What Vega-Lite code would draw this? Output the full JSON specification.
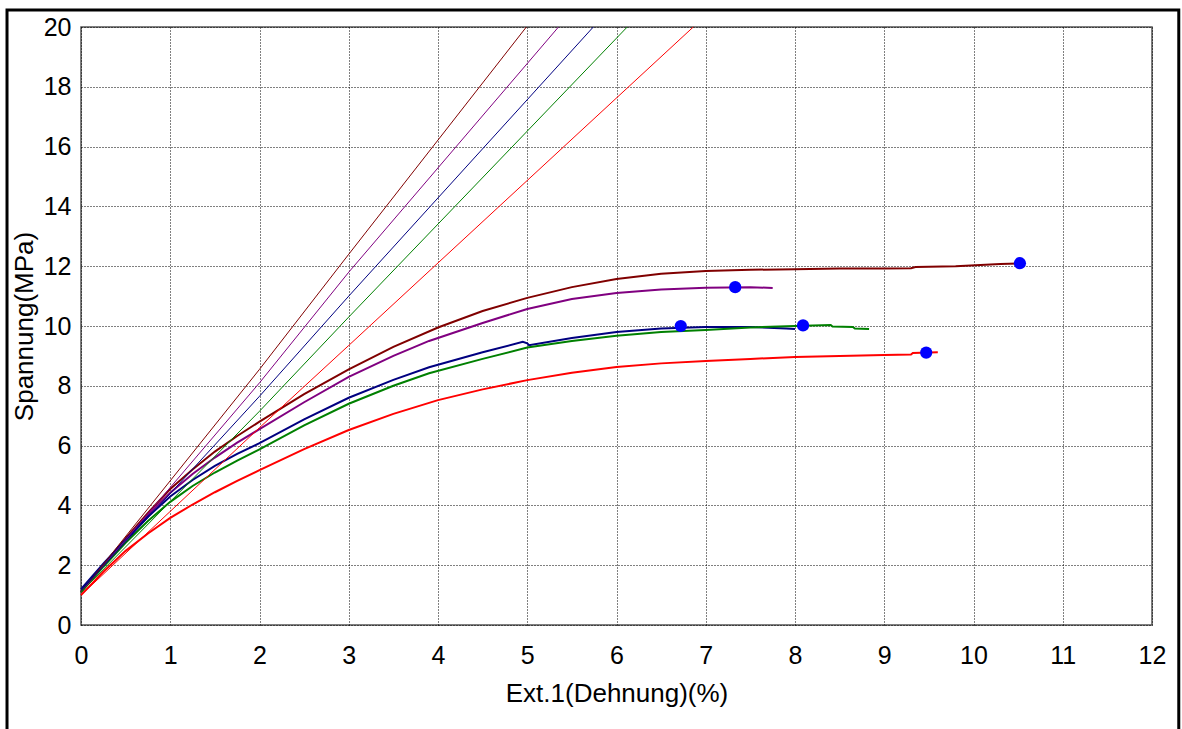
{
  "$schema": "https://vega.github.io/schema/vega-lite/v6.json",
  "width": 1071,
  "height": 598,
  "autosize": {"type": "none"},
  "padding": {"left": 81, "top": 27, "right": 30, "bottom": 104},
  "background": "white",
  "config": {
    "view": {"stroke": "#555555", "strokeWidth": 1.5},
    "axis": {
      "labelFont": "Liberation Sans",
      "titleFont": "Liberation Sans",
      "labelFontSize": 25,
      "titleFontSize": 26,
      "titleFontWeight": "normal",
      "labelColor": "black",
      "titleColor": "black",
      "grid": true,
      "gridColor": "black",
      "gridDash": [1, 2],
      "gridWidth": 1,
      "gridOpacity": 1,
      "ticks": false,
      "tickSize": 0,
      "domain": false,
      "labelFlush": false,
      "labelOverlap": false
    }
  },
  "datasets": {
    "curves": [
      {"series": "brown", "kind": "curve", "x": 0, "y": 1.1},
      {"series": "brown", "kind": "curve", "x": 0.25, "y": 2.0},
      {"series": "brown", "kind": "curve", "x": 0.5, "y": 2.9},
      {"series": "brown", "kind": "curve", "x": 0.75, "y": 3.75},
      {"series": "brown", "kind": "curve", "x": 1, "y": 4.55},
      {"series": "brown", "kind": "curve", "x": 1.25, "y": 5.2},
      {"series": "brown", "kind": "curve", "x": 1.5, "y": 5.8},
      {"series": "brown", "kind": "curve", "x": 1.75, "y": 6.32},
      {"series": "brown", "kind": "curve", "x": 2, "y": 6.8},
      {"series": "brown", "kind": "curve", "x": 2.5, "y": 7.72},
      {"series": "brown", "kind": "curve", "x": 3, "y": 8.55},
      {"series": "brown", "kind": "curve", "x": 3.5, "y": 9.3},
      {"series": "brown", "kind": "curve", "x": 4, "y": 9.95},
      {"series": "brown", "kind": "curve", "x": 4.5, "y": 10.5},
      {"series": "brown", "kind": "curve", "x": 5, "y": 10.94},
      {"series": "brown", "kind": "curve", "x": 5.5, "y": 11.3},
      {"series": "brown", "kind": "curve", "x": 6, "y": 11.57},
      {"series": "brown", "kind": "curve", "x": 6.5, "y": 11.75},
      {"series": "brown", "kind": "curve", "x": 7, "y": 11.84},
      {"series": "brown", "kind": "curve", "x": 7.5, "y": 11.88},
      {"series": "brown", "kind": "curve", "x": 8, "y": 11.9},
      {"series": "brown", "kind": "curve", "x": 8.5, "y": 11.92},
      {"series": "brown", "kind": "curve", "x": 9, "y": 11.92},
      {"series": "brown", "kind": "curve", "x": 9.3, "y": 11.93},
      {"series": "brown", "kind": "curve", "x": 9.35, "y": 11.97},
      {"series": "brown", "kind": "curve", "x": 9.8, "y": 12.0},
      {"series": "brown", "kind": "curve", "x": 10.3, "y": 12.07},
      {"series": "brown", "kind": "curve", "x": 10.55, "y": 12.1},

      {"series": "purple", "kind": "curve", "x": 0, "y": 1.1},
      {"series": "purple", "kind": "curve", "x": 0.25, "y": 2.0},
      {"series": "purple", "kind": "curve", "x": 0.5, "y": 2.85},
      {"series": "purple", "kind": "curve", "x": 0.75, "y": 3.68},
      {"series": "purple", "kind": "curve", "x": 1, "y": 4.42},
      {"series": "purple", "kind": "curve", "x": 1.25, "y": 5.05},
      {"series": "purple", "kind": "curve", "x": 1.5, "y": 5.6},
      {"series": "purple", "kind": "curve", "x": 1.75, "y": 6.1},
      {"series": "purple", "kind": "curve", "x": 2, "y": 6.55},
      {"series": "purple", "kind": "curve", "x": 2.5, "y": 7.45},
      {"series": "purple", "kind": "curve", "x": 3, "y": 8.3},
      {"series": "purple", "kind": "curve", "x": 3.5, "y": 9.0},
      {"series": "purple", "kind": "curve", "x": 3.9, "y": 9.5},
      {"series": "purple", "kind": "curve", "x": 4.5, "y": 10.1},
      {"series": "purple", "kind": "curve", "x": 5, "y": 10.57},
      {"series": "purple", "kind": "curve", "x": 5.5, "y": 10.9},
      {"series": "purple", "kind": "curve", "x": 6, "y": 11.1},
      {"series": "purple", "kind": "curve", "x": 6.5, "y": 11.22},
      {"series": "purple", "kind": "curve", "x": 7, "y": 11.28},
      {"series": "purple", "kind": "curve", "x": 7.5, "y": 11.3},
      {"series": "purple", "kind": "curve", "x": 7.75, "y": 11.27},

      {"series": "blue", "kind": "curve", "x": 0, "y": 1.2},
      {"series": "blue", "kind": "curve", "x": 0.25, "y": 2.05},
      {"series": "blue", "kind": "curve", "x": 0.5, "y": 2.85},
      {"series": "blue", "kind": "curve", "x": 0.75, "y": 3.62},
      {"series": "blue", "kind": "curve", "x": 1, "y": 4.3},
      {"series": "blue", "kind": "curve", "x": 1.25, "y": 4.85},
      {"series": "blue", "kind": "curve", "x": 1.5, "y": 5.32},
      {"series": "blue", "kind": "curve", "x": 1.75, "y": 5.72},
      {"series": "blue", "kind": "curve", "x": 2, "y": 6.08},
      {"series": "blue", "kind": "curve", "x": 2.5, "y": 6.88},
      {"series": "blue", "kind": "curve", "x": 3, "y": 7.6},
      {"series": "blue", "kind": "curve", "x": 3.5, "y": 8.2},
      {"series": "blue", "kind": "curve", "x": 3.9, "y": 8.62},
      {"series": "blue", "kind": "curve", "x": 4.5, "y": 9.12},
      {"series": "blue", "kind": "curve", "x": 4.95, "y": 9.47},
      {"series": "blue", "kind": "curve", "x": 5.0, "y": 9.42},
      {"series": "blue", "kind": "curve", "x": 5.02, "y": 9.36},
      {"series": "blue", "kind": "curve", "x": 5.5, "y": 9.6},
      {"series": "blue", "kind": "curve", "x": 6, "y": 9.8},
      {"series": "blue", "kind": "curve", "x": 6.5, "y": 9.92},
      {"series": "blue", "kind": "curve", "x": 7, "y": 9.97},
      {"series": "blue", "kind": "curve", "x": 7.5, "y": 9.97},
      {"series": "blue", "kind": "curve", "x": 7.9, "y": 9.92},
      {"series": "blue", "kind": "curve", "x": 8.0, "y": 9.9},

      {"series": "green", "kind": "curve", "x": 0, "y": 1.1},
      {"series": "green", "kind": "curve", "x": 0.25, "y": 1.95},
      {"series": "green", "kind": "curve", "x": 0.5, "y": 2.75},
      {"series": "green", "kind": "curve", "x": 0.75, "y": 3.48},
      {"series": "green", "kind": "curve", "x": 1, "y": 4.12},
      {"series": "green", "kind": "curve", "x": 1.25, "y": 4.65},
      {"series": "green", "kind": "curve", "x": 1.5, "y": 5.1},
      {"series": "green", "kind": "curve", "x": 1.75, "y": 5.5},
      {"series": "green", "kind": "curve", "x": 2, "y": 5.87},
      {"series": "green", "kind": "curve", "x": 2.5, "y": 6.68},
      {"series": "green", "kind": "curve", "x": 3, "y": 7.4},
      {"series": "green", "kind": "curve", "x": 3.5, "y": 8.0},
      {"series": "green", "kind": "curve", "x": 3.9, "y": 8.42},
      {"series": "green", "kind": "curve", "x": 4.5, "y": 8.9},
      {"series": "green", "kind": "curve", "x": 5, "y": 9.28},
      {"series": "green", "kind": "curve", "x": 5.5, "y": 9.5},
      {"series": "green", "kind": "curve", "x": 6, "y": 9.67},
      {"series": "green", "kind": "curve", "x": 6.5, "y": 9.8},
      {"series": "green", "kind": "curve", "x": 7, "y": 9.87},
      {"series": "green", "kind": "curve", "x": 7.5, "y": 9.95},
      {"series": "green", "kind": "curve", "x": 8, "y": 10.0},
      {"series": "green", "kind": "curve", "x": 8.4, "y": 10.03},
      {"series": "green", "kind": "curve", "x": 8.42, "y": 9.98},
      {"series": "green", "kind": "curve", "x": 8.65, "y": 9.97},
      {"series": "green", "kind": "curve", "x": 8.67, "y": 9.92},
      {"series": "green", "kind": "curve", "x": 8.83, "y": 9.9},

      {"series": "red", "kind": "curve", "x": 0, "y": 1.0},
      {"series": "red", "kind": "curve", "x": 0.25, "y": 1.78},
      {"series": "red", "kind": "curve", "x": 0.5, "y": 2.48},
      {"series": "red", "kind": "curve", "x": 0.75, "y": 3.06},
      {"series": "red", "kind": "curve", "x": 1, "y": 3.58},
      {"series": "red", "kind": "curve", "x": 1.25, "y": 4.03},
      {"series": "red", "kind": "curve", "x": 1.5, "y": 4.44},
      {"series": "red", "kind": "curve", "x": 1.75, "y": 4.82},
      {"series": "red", "kind": "curve", "x": 2, "y": 5.18},
      {"series": "red", "kind": "curve", "x": 2.5, "y": 5.88},
      {"series": "red", "kind": "curve", "x": 3, "y": 6.52},
      {"series": "red", "kind": "curve", "x": 3.5, "y": 7.06},
      {"series": "red", "kind": "curve", "x": 4, "y": 7.52},
      {"series": "red", "kind": "curve", "x": 4.5, "y": 7.88},
      {"series": "red", "kind": "curve", "x": 5, "y": 8.19},
      {"series": "red", "kind": "curve", "x": 5.5, "y": 8.44},
      {"series": "red", "kind": "curve", "x": 6, "y": 8.63},
      {"series": "red", "kind": "curve", "x": 6.5, "y": 8.75},
      {"series": "red", "kind": "curve", "x": 7, "y": 8.83},
      {"series": "red", "kind": "curve", "x": 7.5, "y": 8.9},
      {"series": "red", "kind": "curve", "x": 8, "y": 8.96},
      {"series": "red", "kind": "curve", "x": 8.5, "y": 9.0},
      {"series": "red", "kind": "curve", "x": 9, "y": 9.03},
      {"series": "red", "kind": "curve", "x": 9.3, "y": 9.05},
      {"series": "red", "kind": "curve", "x": 9.32, "y": 9.1},
      {"series": "red", "kind": "curve", "x": 9.6, "y": 9.12},

      {"series": "brown", "kind": "modulus", "x": 0, "y": 1.1},
      {"series": "brown", "kind": "modulus", "x": 2, "y": 8.55},
      {"series": "brown", "kind": "modulus", "x": 3, "y": 12.4},
      {"series": "brown", "kind": "modulus", "x": 4.99, "y": 20},
      {"series": "purple", "kind": "modulus", "x": 0, "y": 1.1},
      {"series": "purple", "kind": "modulus", "x": 2, "y": 8.1},
      {"series": "purple", "kind": "modulus", "x": 3, "y": 11.8},
      {"series": "purple", "kind": "modulus", "x": 5.35, "y": 20},
      {"series": "blue", "kind": "modulus", "x": 0, "y": 1.15},
      {"series": "blue", "kind": "modulus", "x": 2, "y": 7.65},
      {"series": "blue", "kind": "modulus", "x": 3, "y": 11.0},
      {"series": "blue", "kind": "modulus", "x": 5.74, "y": 20},
      {"series": "green", "kind": "modulus", "x": 0, "y": 1.1},
      {"series": "green", "kind": "modulus", "x": 2, "y": 7.15},
      {"series": "green", "kind": "modulus", "x": 3, "y": 10.3},
      {"series": "green", "kind": "modulus", "x": 6.12, "y": 20},
      {"series": "red", "kind": "modulus", "x": 0, "y": 1.0},
      {"series": "red", "kind": "modulus", "x": 2, "y": 6.6},
      {"series": "red", "kind": "modulus", "x": 3, "y": 9.35},
      {"series": "red", "kind": "modulus", "x": 6.86, "y": 20}
    ],
    "breaks": [
      {"series": "brown", "x": 10.52, "y": 12.1},
      {"series": "purple", "x": 7.33, "y": 11.3},
      {"series": "blue", "x": 6.72, "y": 10.0},
      {"series": "green", "x": 8.09, "y": 10.02},
      {"series": "red", "x": 9.47, "y": 9.11}
    ]
  },
  "layer": [
    {
      "data": {"values": [{"frame": "outer"}]},
      "mark": {"type": "rect", "fill": null, "filled": false, "stroke": "black", "strokeWidth": 3},
      "encoding": {
        "x": {"datum": -0.829, "type": "quantitative", "scale": {"domain": [0, 12], "nice": false, "zero": false}},
        "x2": {"datum": 12.3},
        "y": {"datum": 20.57, "type": "quantitative", "scale": {"domain": [0, 20], "nice": false, "zero": false}},
        "y2": {"datum": -4}
      }
    },
    {
      "data": {"name": "curves"},
      "mark": {"type": "line", "interpolate": "linear"},
      "encoding": {
        "x": {
          "field": "x", "type": "quantitative",
          "scale": {"domain": [0, 12], "nice": false, "zero": false},
          "axis": {"title": "Ext.1(Dehnung)(%)", "values": [0,1,2,3,4,5,6,7,8,9,10,11,12], "format": "d", "labelPadding": 18, "titlePadding": 12}
        },
        "y": {
          "field": "y", "type": "quantitative",
          "scale": {"domain": [0, 20], "nice": false, "zero": false},
          "axis": {"title": "Spannung(MPa)", "values": [0,2,4,6,8,10,12,14,16,18,20], "format": "d", "labelPadding": 10, "titlePadding": 6}
        },
        "color": {
          "field": "series", "type": "nominal",
          "scale": {"domain": ["brown", "purple", "blue", "green", "red"], "range": ["#800000", "#800080", "#000080", "#008000", "#ff0000"]},
          "legend": null
        },
        "strokeWidth": {
          "field": "kind", "type": "nominal",
          "scale": {"domain": ["curve", "modulus"], "range": [2, 1]},
          "legend": null
        }
      }
    },
    {
      "data": {"name": "breaks"},
      "mark": {"type": "circle", "color": "#0000ff", "opacity": 1, "size": 150},
      "encoding": {
        "x": {"field": "x", "type": "quantitative"},
        "y": {"field": "y", "type": "quantitative"}
      }
    }
  ]
}
